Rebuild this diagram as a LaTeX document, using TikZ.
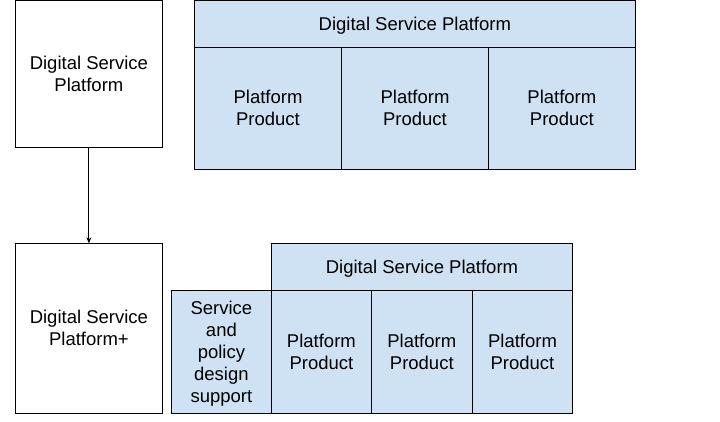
\documentclass[tikz,border=0pt]{standalone}
\usepackage{fontspec}
\setmainfont{Liberation Sans}
\usetikzlibrary{arrows.meta}
\definecolor{lblue}{HTML}{CFE2F3}
\newcommand{\tx}[1]{\raisebox{-2pt}[\height][\depth]{\begin{tabular}{@{}c@{}}#1\end{tabular}}}
\begin{document}
\begin{tikzpicture}[x=1pt,y=-1pt,
  base/.style={draw=black,line width=0.9pt,inner sep=0pt,outer sep=0pt,align=center,
    font=\fontsize{18.5}{22}\selectfont},
  wbox/.style={base,fill=white},
  bbox/.style={base,fill=lblue},
]
\useasboundingbox (0,0) rectangle (720,421);
% top-left
\node[wbox,minimum width=147.2pt,minimum height=146.7pt] (dsp) at (88.9,73.65) {\tx{Digital Service\\Platform}};
% top-right group
\node[bbox,minimum width=441.1pt,minimum height=46.7pt] (th) at (414.85,23.65) {\tx{Digital Service Platform}};
\node[bbox,minimum width=147.4pt,minimum height=122pt] (tp1) at (268,108) {\tx{Platform\\Product}};
\node[bbox,minimum width=146.6pt,minimum height=122pt] (tp2) at (415,108) {\tx{Platform\\Product}};
\node[bbox,minimum width=147.1pt,minimum height=122pt] (tp3) at (561.85,108) {\tx{Platform\\Product}};
% bottom-left
\node[wbox,minimum width=147.2pt,minimum height=170pt] (dspp) at (88.9,328.3) {\tx{Digital Service\\Platform+}};
% bottom-right group
\node[bbox,minimum width=301.4pt,minimum height=47pt] (bh) at (422,266.8) {\tx{Digital Service Platform}};
\node[bbox,minimum width=100.2pt,minimum height=123pt] (sp) at (221.4,351.8) {\tx{Service\\and\\policy\\design\\support}};
\node[bbox,minimum width=99.8pt,minimum height=123pt] (bp1) at (321.4,351.8) {\tx{Platform\\Product}};
\node[bbox,minimum width=101pt,minimum height=123pt] (bp2) at (421.8,351.8) {\tx{Platform\\Product}};
\node[bbox,minimum width=100.4pt,minimum height=123pt] (bp3) at (522.5,351.8) {\tx{Platform\\Product}};
% arrow
\draw[line width=0.9pt,-{Stealth[length=6pt,width=5pt]}] (dsp.south) -- (dspp.north);
\end{tikzpicture}
\end{document}
